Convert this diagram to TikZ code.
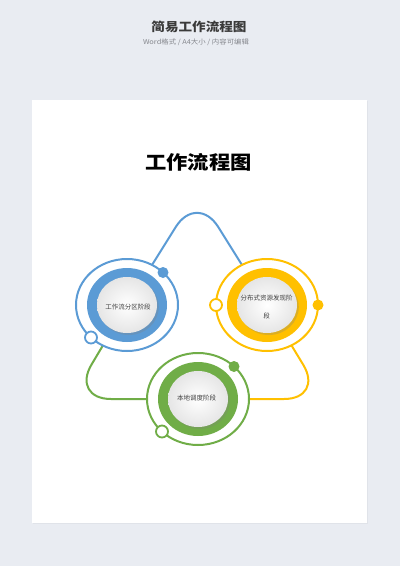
\documentclass[tikz,border=0pt]{standalone}
\usepackage{fontspec}
\setmainfont{Noto Sans CJK SC}
\usepackage{graphicx}
\usetikzlibrary{shadows,calc}
\definecolor{bgc}{HTML}{E9ECF2}
\definecolor{cblue}{HTML}{5B9BD5}
\definecolor{cyel}{HTML}{FFC000}
\definecolor{cgrn}{HTML}{70AD47}
\definecolor{ttl}{HTML}{3A3A3A}
\definecolor{sub}{HTML}{85878D}
\definecolor{lbltxt}{HTML}{404040}
\begin{document}
\begin{tikzpicture}[x=1pt,y=-1pt,
  conn/.style={line width=2pt, rounded corners=40pt},
  outerring/.style={draw=#1, line width=2pt, fill=white},
  disk/.style={shade, inner color=white, outer color=black!10,
    drop shadow={opacity=0.28, shadow xshift=1.8pt, shadow yshift=-2pt}},
  fdot/.style={circle, fill=#1, minimum size=11pt, inner sep=0pt},
  hdot/.style={circle, draw=#1, fill=white, line width=1.8pt, minimum size=12pt, inner sep=0pt},
  lbl/.style={font=\fontsize{6.5}{7}\selectfont, text=lbltxt, inner sep=0pt}]
\useasboundingbox (0,0) rectangle (400,566);
\fill[bgc] (0,0) rectangle (400,566);
% header
\node (title) at (199,27) {\scalebox{1}[0.9]{\fontsize{13.6}{16}\selectfont\bfseries\color{ttl}简易工作流程图}};
\node (subtitle) at (196,42.5) {\scalebox{1}[0.9]{\fontsize{7.4}{9}\selectfont\color{sub}Word格式 / A4大小 / 内容可编辑}};
% page
\fill[white, drop shadow={opacity=0.08, shadow xshift=1.2pt, shadow yshift=-1.2pt}] (32,100) rectangle (367,523);
\node (heading) at (198.5,162) {\scalebox{1}[0.88]{\fontsize{21.3}{24}\selectfont\bfseries\color{black}工作流程图}};
% centres and corners
\coordinate (Bc) at (127,305);
\coordinate (Yc) at (267,305);
\coordinate (Gc) at (198,399);
\coordinate (apex) at (197,193);
\coordinate (bl) at (71,399);
\coordinate (br) at (324,399);
% connectors
\draw[conn, cblue] (Bc) -- (apex) -- (Yc);
\draw[conn, cgrn] (Bc) -- (bl) -- (Gc);
\draw[conn, cyel] (Yc) -- (br) -- (Gc);
% blue group
\path[outerring=cblue] (Bc) ellipse [x radius=51, y radius=46];
\fill[cblue] (Bc) ellipse [x radius=40, y radius=37];
\path[disk] (Bc) ellipse [x radius=30, y radius=28];
\node[fdot=cblue] (Bd1) at ($(Bc)+(36,-32.5)$) {};
\node[hdot=cblue] (Bd2) at ($(Bc)+(-36,32.5)$) {};
% yellow group
\path[outerring=cyel] (Yc) ellipse [x radius=51, y radius=46];
\fill[cyel] (Yc) ellipse [x radius=40, y radius=37];
\path[disk] (Yc) ellipse [x radius=30, y radius=28];
\node[fdot=cyel] (Yd1) at ($(Yc)+(51,0)$) {};
\node[hdot=cyel] (Yd2) at ($(Yc)+(-51,0)$) {};
% green group
\path[outerring=cgrn] (Gc) ellipse [x radius=51, y radius=46];
\fill[cgrn] (Gc) ellipse [x radius=40, y radius=37];
\path[disk] (Gc) ellipse [x radius=30, y radius=28];
\node[fdot=cgrn] (Gd1) at ($(Gc)+(36,-32.5)$) {};
\node[hdot=cgrn] (Gd2) at ($(Gc)+(-36,32.5)$) {};
% labels
\node[lbl] (B) at (128,307.5) {工作流分区阶段};
\node[lbl, align=center, font=\fontsize{6.5}{17.7}\selectfont] (Y) at (266.5,307) {分布式资源发现阶\\段};
\node[lbl] (G) at (196.5,398.5) {本地调度阶段};
\end{tikzpicture}
\end{document}
